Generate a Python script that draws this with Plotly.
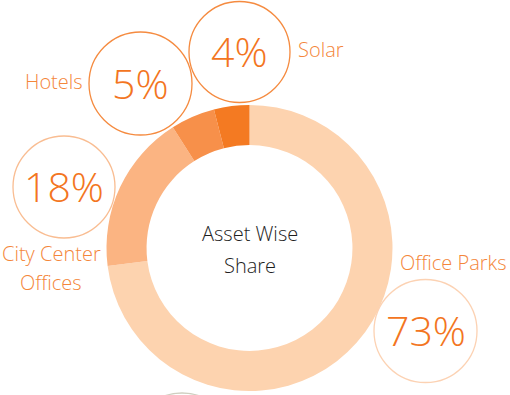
import plotly.graph_objects as go

categories = ["Office Parks", "City Center Offices", "Hotels", "Solar"]
values = [73, 18, 5, 4]
pct_labels = ["73%", "18%", "5%", "4%"]
slice_colors = ["#FDD3AF", "#FBB482", "#F7904A", "#F47A22"]

W, H = 510, 395

def px(x):
    return x / W

def py(y):
    return 1 - y / H

cx, cy, R = 249.5, 248, 143

fig = go.Figure(go.Pie(
    labels=categories, values=values, sort=False, direction="clockwise",
    rotation=0, hole=0.72, textinfo="none", hoverinfo="none",
    marker=dict(colors=slice_colors, line=dict(width=0)),
    domain=dict(x=[px(cx - R), px(cx + R)], y=[py(cy + R), py(cy - R)]),
    showlegend=False,
))

font_family = "Open Sans, Lato, sans-serif"

bubbles = [
    dict(cx=425.5, cy=331, r=51.5, color="#FCD2B3", pct=pct_labels[0]),
    dict(cx=64, cy=187, r=51, color="#F9BD92", pct=pct_labels[1]),
    dict(cx=140.5, cy=83.5, r=51.5, color="#F58B40", pct=pct_labels[2]),
    dict(cx=239.5, cy=52, r=50.5, color="#F58B40", pct=pct_labels[3]),
]

shapes = []
annotations = []
for b in bubbles:
    shapes.append(dict(type="circle", xref="paper", yref="paper",
                       x0=px(b["cx"] - b["r"]), x1=px(b["cx"] + b["r"]),
                       y0=py(b["cy"] + b["r"]), y1=py(b["cy"] - b["r"]),
                       line=dict(color=b["color"], width=1.3)))
    annotations.append(dict(text=b["pct"], x=px(b["cx"]), y=py(b["cy"] - 1),
                            xref="paper", yref="paper", showarrow=False,
                            xanchor="center", yanchor="middle",
                            font=dict(family=font_family, size=41, color="#F37521", weight=300)))

# partially visible bubble at bottom
shapes.append(dict(type="circle", xref="paper", yref="paper",
                   x0=px(130), x1=px(234), y0=py(497), y1=py(393),
                   line=dict(color="#CFCFC0", width=1.3)))

name_labels = [
    ("Office Parks", 453, 262),
    ("City Center", 51, 253),
    ("Offices", 51, 282),
    ("Hotels", 54, 81),
    ("Solar", 321, 49),
]
for t, x, y in name_labels:
    annotations.append(dict(text=t, x=px(x), y=py(y), xref="paper", yref="paper",
                            showarrow=False, xanchor="center", yanchor="middle",
                            font=dict(family=font_family, size=20, color="#F4863A", weight=300)))

for t, y in [("Asset Wise", 233), ("Share", 265)]:
    annotations.append(dict(text=t, x=px(cx), y=py(y), xref="paper", yref="paper",
                            showarrow=False, xanchor="center", yanchor="middle",
                            font=dict(family=font_family, size=20, color="#1E1E1E", weight=300)))

fig.update_layout(width=W, height=H, margin=dict(l=0, r=0, t=0, b=0),
                  paper_bgcolor="white", plot_bgcolor="white",
                  shapes=shapes, annotations=annotations)

fig.write_html("out.html", config={"displayModeBar": False},
               post_script="document.body.style.margin='0';")
